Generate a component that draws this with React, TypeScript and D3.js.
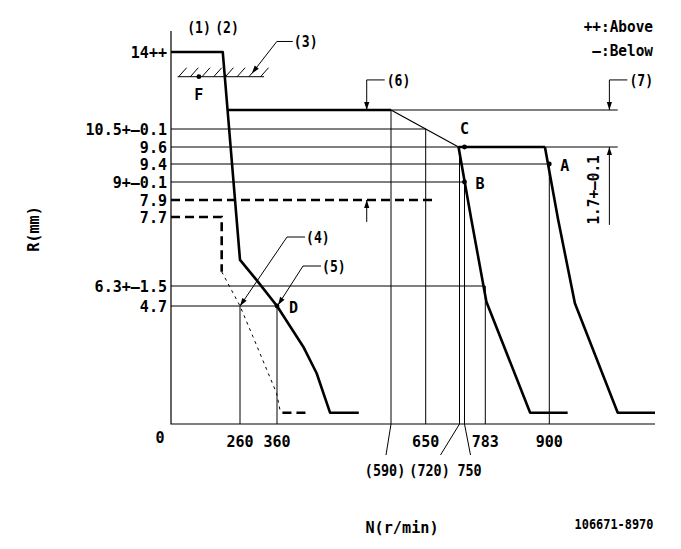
import React from "react";
import * as d3 from "d3";

type P = [number, number];

// ---------- data (rpm, rack mm) ----------
const rpmBreaks = [0, 260, 360, 590, 650, 720, 750, 783, 900, 1090];
const rackBreaks = [0, 4.7, 6.3, 7.7, 7.9, 9, 9.4, 9.6, 10.5, 11.3, 14, 15];

const yTickValues = [14, 10.5, 9.6, 9.4, 9, 7.9, 7.7, 6.3, 4.7];
const yTickLabels = ["14++", "10.5+—0.1", "9.6", "9.4", "9+—0.1", "7.9", "7.7", "6.3+—1.5", "4.7"];
const xTickValues = [260, 360, 650, 783, 900];
const xTickLabels = ["260", "360", "650", "783", "900"];
const xTickValues2 = [590, 720, 750];
const xTickLabels2 = ["(590)", "(720)", "750"];

const fullLoadCurve: P[] = [[0, 14], [195, 14], [260, 6.83], [305, 6.42], [360, 4.7], [413, 3.08], [440, 2.02], [467, 0.45], [525, 0.45]];
const maxFlat: P[] = [[215, 11.3], [590, 11.3]];
const droopLine: P[] = [[590, 11.3], [718, 9.6]];
const setFlat: P[] = [[718, 9.6], [892, 9.6]];
const curveB: P[] = [[718, 9.6], [761, 7.64], [785, 5.04], [865, 0.45], [933, 0.45]];
const curveA: P[] = [[892, 9.6], [916, 7.64], [946, 4.92], [1023, 0.45], [1090, 0.45]];
const line79: P[] = [[0, 7.9], [673, 7.9]];
const line77: P[] = [[0, 7.7], [191, 7.7], [191, 6.59]];
const lowerCurve: P[] = [[191, 6.59], [260, 4.7], [295, 3.48], [359, 1.22], [366, 0.56], [371, 0.45]];
const lowerFlat: P[] = [[371, 0.45], [423, 0.45]];

const hGuideLevels = [10.5, 9.6, 9.4, 9, 6.3, 4.7, 11.3];
const hGuideFrom = [0, 0, 0, 0, 0, 0, 590];
const hGuideTo = [650, 1023, 900, 750, 783, 360, 1023];
const vGuideRpm = [260, 360, 590, 650, 720, 750, 783, 900];
const vGuideTop = [4.7, 4.7, 11.3, 10.5, 9.6, 9, 6.3, 9.4];

const pointNames = ["F", "C", "B", "A", "D"];
const pointRpm = [105, 750, 750, 900, 360];
const pointRack = [12.85, 9.6, 9, 9.4, 4.7];

const hatchRpm: P = [25, 325];
const hatchRack = 12.85;

// ---------- layout ----------
const xRange = [171, 240, 277, 391, 425.7, 459.5, 464.5, 485.3, 549.3, 655];
const yRange = [424, 306, 286, 217, 200, 182, 164, 147, 129, 110, 52, 31];
const pointLabelOffset: P[] = [[0, 18], [0, -19], [11, 1], [11, 1], [12, 1]];
const FONT = "'DejaVu Sans Mono', 'Liberation Mono', monospace";

type TProps = { x: number; y: number; anchor?: "start" | "middle" | "end"; size?: number; sx?: number; rot?: number; children: React.ReactNode };
function T({ x, y, anchor = "start", size = 16, sx = 0.94, rot = 0, children }: TProps) {
  return (
    <g transform={`translate(${x},${y}) rotate(${rot}) scale(${sx},1)`}>
      <text x={0} y={0} dy="0.36em" textAnchor={anchor} fontFamily={FONT} fontWeight={700} fontSize={size} fill="#000">
        {children}
      </text>
    </g>
  );
}

export default function App() {
  const x = d3.scaleLinear().domain(rpmBreaks).range(xRange);
  const y = d3.scaleLinear().domain(rackBreaks).range(yRange);
  const line = d3.line<P>().x((d) => x(d[0])).y((d) => y(d[1]));

  const arrow = (tx: number, ty: number, fx: number, fy: number, len = 8, hw = 2.6) => {
    const dx = tx - fx, dy = ty - fy;
    const L = Math.hypot(dx, dy) || 1;
    const ux = dx / L, uy = dy / L;
    const bx = tx - ux * len, by = ty - uy * len;
    const px = -uy * hw, py = ux * hw;
    return `M${tx},${ty}L${bx + px},${by + py}L${bx - px},${by - py}Z`;
  };

  const x0 = x(0), yBase = y(0);

  const leader = (tipX: number, tipY: number, dx: number, dy: number, run: number, label: string, key: string) => {
    const ex = tipX + dx, ey = tipY + dy;
    return (
      <g key={key}>
        <path d={`M${tipX},${tipY}L${ex},${ey}L${ex + run},${ey}`} fill="none" stroke="#000" strokeWidth={1} />
        <path d={arrow(tipX, tipY, ex, ey)} fill="#000" />
        <T x={ex + run + 1} y={ey} sx={0.82}>{label}</T>
      </g>
    );
  };

  const hatchY = y(hatchRack);
  const hx0 = x(hatchRpm[0]), hx1 = x(hatchRpm[1]);
  const hatchMarks = d3.range(hx0 + 1, hx1 - 3, 11.7);

  const x6 = x(541), x7 = x(1008);
  const yLeadTop = y(12.7);

  return (
    <svg width={681} height={549} style={{ position: "absolute", left: 0, top: 0, background: "#fff" }}>
      <rect width={681} height={549} fill="#fff" />
      {/* axes */}
      <path d={`M${x0},${y(15)}V${yBase}H${x(1090)}`} fill="none" stroke="#000" strokeWidth={1.2} />

      {/* guide lines */}
      {hGuideLevels.map((v, i) => (
        <line key={"h" + i} x1={x(hGuideFrom[i])} x2={x(hGuideTo[i])} y1={y(v)} y2={y(v)} stroke="#000" strokeWidth={1} />
      ))}
      {vGuideRpm.map((v, i) => (
        <line key={"v" + i} x1={x(v)} x2={x(v)} y1={y(vGuideTop[i])} y2={yBase} stroke="#000" strokeWidth={1} />
      ))}

      {/* hatch */}
      <line x1={hx0} x2={hx1} y1={hatchY} y2={hatchY} stroke="#000" strokeWidth={1} />
      {hatchMarks.map((h, i) => (
        <line key={"ht" + i} x1={h} y1={hatchY} x2={h + 8} y2={hatchY - 9} stroke="#000" strokeWidth={1} />
      ))}

      {/* curves */}
      <path d={line(fullLoadCurve)!} fill="none" stroke="#000" strokeWidth={2.6} strokeLinejoin="round" />
      <path d={line(maxFlat)!} fill="none" stroke="#000" strokeWidth={2.6} />
      <path d={line(droopLine)!} fill="none" stroke="#000" strokeWidth={1.2} />
      <path d={line(setFlat)!} fill="none" stroke="#000" strokeWidth={2.6} />
      <path d={line(curveB)!} fill="none" stroke="#000" strokeWidth={2.6} strokeLinejoin="round" />
      <path d={line(curveA)!} fill="none" stroke="#000" strokeWidth={2.6} strokeLinejoin="round" />
      <path d={line(line79)!} fill="none" stroke="#000" strokeWidth={2.6} strokeDasharray="9,5" />
      <path d={line(line77)!} fill="none" stroke="#000" strokeWidth={2.6} strokeDasharray="9,5" />
      <path d={line(lowerCurve)!} fill="none" stroke="#000" strokeWidth={1} strokeDasharray="3,4" />
      <path d={line(lowerFlat)!} fill="none" stroke="#000" strokeWidth={2.6} strokeDasharray="9,5" />

      {/* points */}
      {pointNames.map((n, i) => {
        const px = x(pointRpm[i]), py = y(pointRack[i]);
        const [ox, oy] = pointLabelOffset[i];
        return (
          <g key={"p" + n}>
            <circle cx={px} cy={py} r={2.4} fill="#000" />
            <T x={px + ox} y={py + oy} anchor={ox === 0 ? "middle" : "start"}>{n}</T>
          </g>
        );
      })}

      {/* (6) and (7) dimension leaders */}
      <path d={`M${x6 + 18},${yLeadTop}H${x6}V${y(11.3)}`} fill="none" stroke="#000" strokeWidth={1} />
      <path d={arrow(x6, y(11.3), x6, yLeadTop)} fill="#000" />
      <path d={`M${x6},${y(7.9)}V${y(7.6)}`} fill="none" stroke="#000" strokeWidth={1} />
      <path d={arrow(x6, y(7.9), x6, y(7.6))} fill="#000" />
      <T x={x6 + 20} y={yLeadTop} sx={0.82}>(6)</T>

      <path d={`M${x7 + 18},${yLeadTop}H${x7}V${y(11.3)}`} fill="none" stroke="#000" strokeWidth={1} />
      <path d={arrow(x7, y(11.3), x7, yLeadTop)} fill="#000" />
      <path d={`M${x7},${y(9.6)}V${y(7.54)}`} fill="none" stroke="#000" strokeWidth={1} />
      <path d={arrow(x7, y(9.6), x7, y(7.54))} fill="#000" />
      <T x={x7 + 20} y={yLeadTop} sx={0.82}>(7)</T>
      <T x={x7 - 16} y={(y(9.6) + y(7.54)) / 2 + 4} rot={-90} anchor="middle" sx={0.9}>1.7+—0.1</T>

      {/* elbow leaders */}
      {leader(x(292), y(13.0), 25, -32, 16, "(3)", "l3")}
      {leader(x(260), y(4.7), 47, -69, 18, "(4)", "l4")}
      {leader(x(360) + 1, y(4.7) - 1, 25, -39, 18, "(5)", "l5")}

      {/* y ticks */}
      {yTickValues.map((v, i) => (
        <T key={"yt" + i} x={167} y={y(v)} anchor="end">{yTickLabels[i]}</T>
      ))}
      <T x={160} y={437} anchor="middle">0</T>

      {/* x ticks */}
      {xTickValues.map((v, i) => (
        <T key={"xt" + i} x={x(v)} y={441} anchor="middle">{xTickLabels[i]}</T>
      ))}
      {xTickValues2.map((v, i) => {
        const ldx = [-5, -19, 6][i];
        const tdx = [-6, -30, 5][i];
        return (
          <g key={"xt2" + i}>
            <line x1={x(v)} y1={yBase} x2={x(v) + ldx} y2={455} stroke="#000" strokeWidth={1} />
            <T x={x(v) + tdx} y={470} anchor="middle" sx={0.84}>{xTickLabels2[i]}</T>
          </g>
        );
      })}

      {/* titles */}
      <T x={199} y={27} anchor="middle" sx={0.82}>(1)</T>
      <T x={227} y={27} anchor="middle" sx={0.82}>(2)</T>
      <T x={653} y={26} anchor="end" sx={0.9}>++:Above</T>
      <T x={653} y={50} anchor="end" sx={0.9}>—:Below</T>
      <T x={33} y={229} rot={-90} anchor="middle" sx={0.95}>R(mm)</T>
      <T x={402} y={527} anchor="middle" sx={0.95}>N(r/min)</T>
      <T x={614} y={524} anchor="middle" size={14} sx={0.85}>106671-8970</T>
    </svg>
  );
}
